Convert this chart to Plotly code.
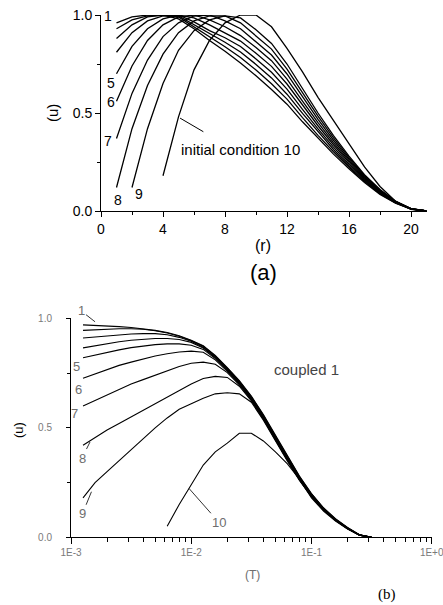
import plotly.graph_objects as go

# ---------------- panel (a) data ----------------
r_vals = list(range(1, 22))
a1 = [0.96, 0.99, 1.0, 1.0, 0.98, 0.93, 0.87, 0.815, 0.755, 0.69, 0.62, 0.545, 0.455, 0.37, 0.29, 0.215, 0.145, 0.085, 0.04, 0.01, 0.0]
a2 = [0.93, 0.975, 0.995, 1.0, 0.99, 0.94, 0.886, 0.838, 0.783, 0.719, 0.649, 0.571, 0.476, 0.386, 0.302, 0.223, 0.15, 0.088, 0.041, 0.01, 0.0]
a3 = [0.88, 0.95, 0.99, 1.0, 0.995, 0.95, 0.903, 0.861, 0.811, 0.748, 0.679, 0.596, 0.498, 0.403, 0.314, 0.231, 0.155, 0.091, 0.043, 0.011, 0.0]
a4 = [0.81, 0.91, 0.97, 0.995, 1.0, 0.965, 0.92, 0.884, 0.839, 0.776, 0.708, 0.622, 0.519, 0.419, 0.326, 0.239, 0.16, 0.094, 0.044, 0.011, 0.0]
a5 = [0.70, 0.84, 0.93, 0.98, 1.0, 0.985, 0.95, 0.91, 0.867, 0.805, 0.738, 0.648, 0.54, 0.435, 0.338, 0.248, 0.165, 0.098, 0.045, 0.011, 0.0]
a6 = [0.56, 0.74, 0.87, 0.95, 0.99, 1.0, 0.975, 0.94, 0.895, 0.834, 0.767, 0.673, 0.561, 0.451, 0.349, 0.256, 0.17, 0.101, 0.046, 0.011, 0.0]
a7 = [0.37, 0.60, 0.77, 0.89, 0.96, 0.995, 1.0, 0.97, 0.93, 0.863, 0.796, 0.699, 0.583, 0.468, 0.361, 0.264, 0.175, 0.104, 0.048, 0.012, 0.0]
a8 = [0.12, 0.42, 0.64, 0.80, 0.91, 0.97, 0.995, 0.995, 0.96, 0.895, 0.826, 0.724, 0.604, 0.484, 0.373, 0.272, 0.18, 0.107, 0.049, 0.012, 0.0]
a9 = [None, 0.12, 0.42, 0.65, 0.82, 0.92, 0.975, 0.995, 0.985, 0.925, 0.855, 0.75, 0.625, 0.50, 0.385, 0.28, 0.185, 0.11, 0.05, 0.012, 0.0]
a10 = [None, None, None, 0.18, 0.48, 0.72, 0.87, 0.96, 1.0, 1.0, 0.94, 0.83, 0.71, 0.58, 0.46, 0.34, 0.225, 0.125, 0.05, 0.008, 0.0]
curves_a = [a1, a2, a3, a4, a5, a6, a7, a8, a9, a10]

# ---------------- panel (b) data ----------------
logT = [-2.9, -2.8, -2.7, -2.6, -2.5, -2.4, -2.3, -2.2, -2.1, -2.0, -1.9, -1.8, -1.7,
        -1.6, -1.5, -1.4, -1.3, -1.2, -1.1, -1.0, -0.9, -0.8, -0.7, -0.6, -0.5]
T_vals = [10 ** e for e in logT]
b1 = [0.97, 0.968, 0.965, 0.962, 0.958, 0.952, 0.945, 0.935, 0.92, 0.90, 0.875, 0.83, 0.775, 0.715, 0.645, 0.56, 0.465, 0.37, 0.28, 0.20, 0.135, 0.085, 0.045, 0.012, 0.0]
b2 = [0.945, 0.948, 0.95, 0.952, 0.952, 0.95, 0.943, 0.933, 0.918, 0.898, 0.872, 0.827, 0.772, 0.712, 0.642, 0.557, 0.462, 0.367, 0.277, 0.198, 0.133, 0.083, 0.044, 0.011, 0.0]
b3 = [0.91, 0.915, 0.92, 0.925, 0.928, 0.93, 0.93, 0.925, 0.913, 0.895, 0.868, 0.824, 0.769, 0.709, 0.639, 0.554, 0.459, 0.364, 0.274, 0.196, 0.131, 0.082, 0.043, 0.011, 0.0]
b4 = [0.865, 0.875, 0.885, 0.893, 0.90, 0.905, 0.908, 0.908, 0.903, 0.89, 0.864, 0.82, 0.766, 0.706, 0.636, 0.551, 0.456, 0.361, 0.271, 0.194, 0.129, 0.081, 0.042, 0.01, 0.0]
b5 = [0.82, 0.833, 0.845, 0.856, 0.866, 0.874, 0.88, 0.883, 0.883, 0.877, 0.858, 0.816, 0.762, 0.703, 0.633, 0.548, 0.453, 0.358, 0.268, 0.192, 0.128, 0.08, 0.041, 0.01, 0.0]
b6 = [0.726, 0.745, 0.765, 0.785, 0.80, 0.815, 0.828, 0.838, 0.846, 0.85, 0.845, 0.81, 0.758, 0.70, 0.63, 0.545, 0.45, 0.355, 0.266, 0.19, 0.127, 0.079, 0.04, 0.01, 0.0]
b7 = [0.60, 0.625, 0.65, 0.675, 0.70, 0.72, 0.74, 0.76, 0.78, 0.795, 0.80, 0.79, 0.752, 0.696, 0.627, 0.542, 0.447, 0.352, 0.264, 0.188, 0.126, 0.078, 0.04, 0.01, 0.0]
b8 = [0.42, 0.455, 0.49, 0.52, 0.55, 0.58, 0.61, 0.64, 0.67, 0.70, 0.725, 0.735, 0.73, 0.69, 0.623, 0.539, 0.444, 0.35, 0.262, 0.186, 0.125, 0.077, 0.039, 0.01, 0.0]
b9 = [0.18, 0.25, 0.30, 0.35, 0.40, 0.45, 0.50, 0.545, 0.585, 0.61, 0.635, 0.655, 0.66, 0.655, 0.617, 0.535, 0.44, 0.347, 0.26, 0.185, 0.124, 0.076, 0.039, 0.01, 0.0]
b10 = [None, None, None, None, None, None, None, 0.05, 0.15, 0.24, 0.33, 0.39, 0.43, 0.475, 0.475, 0.44, 0.39, 0.335, 0.265, 0.18, 0.12, 0.074, 0.038, 0.01, 0.0]
curves_b = [b1, b2, b3, b4, b5, b6, b7, b8, b9, b10]

x_ticks_b = [0.001, 0.01, 0.1, 1]
x_ticktext_b = ["1E-3", "1E-2", "1E-1", "1E+0"]
x_minor_b = [k * 10 ** e for e in (-3, -2, -1) for k in range(2, 10)]

W, H = 443, 605
def px(x):
    return x / W
def py(y):
    return 1 - y / H

fig = go.Figure()
for c in curves_a:
    fig.add_trace(go.Scatter(x=r_vals, y=c, mode="lines", xaxis="x", yaxis="y",
                             line=dict(color="black", width=1.3), showlegend=False,
                             connectgaps=False, cliponaxis=False, hoverinfo="skip"))
for c in curves_b:
    fig.add_trace(go.Scatter(x=T_vals, y=c, mode="lines", xaxis="x2", yaxis="y2",
                             line=dict(color="black", width=1.1), showlegend=False,
                             connectgaps=False, cliponaxis=False, hoverinfo="skip"))

font_a = dict(family="Liberation Sans, Arial, sans-serif", size=14, color="black")
font_b = dict(family="Liberation Sans, Arial, sans-serif", size=10, color="#7a7a7a")

common = dict(showgrid=False, zeroline=False, showline=True, linecolor="black",
              linewidth=1, mirror=False, ticks="outside", tickcolor="black",
              automargin=False, ticklabeloverflow="allow")

fig.update_layout(
    width=W, height=H, margin=dict(l=0, r=0, t=0, b=0, pad=0),
    paper_bgcolor="white", plot_bgcolor="white",
    xaxis=dict(domain=[px(101), px(426.5)], range=[0, 21], anchor="y", ticklen=5,
               tickvals=[0, 4, 8, 12, 16, 20], tickfont=font_a,
               minor=dict(ticks="outside", ticklen=3, tickvals=[2, 6, 10, 14, 18], tickcolor="black"),
               **common),
    yaxis=dict(domain=[py(211), py(15)], range=[0, 1.0], anchor="x", ticklen=5,
               tickvals=[0, 0.5, 1.0], tickformat=".1f", tickfont=font_a,
               minor=dict(ticks="outside", ticklen=3, tickvals=[0.25, 0.75], tickcolor="black"),
               **common),
    xaxis2=dict(domain=[px(71), px(431.7)], type="log", range=[-3, 0], anchor="y2", ticklen=6,
                tickvals=x_ticks_b, ticktext=x_ticktext_b, tickfont=font_b,
                minor=dict(ticks="outside", ticklen=4, tickvals=x_minor_b, tickcolor="black"),
                **common),
    yaxis2=dict(domain=[py(537.3), py(318.3)], range=[0, 1.0], anchor="x2", ticklen=4,
                tickvals=[0, 0.5, 1.0], tickformat=".1f", tickfont=font_b,
                ticklabelstandoff=12,
                minor=dict(ticks="outside", ticklen=3, tickvals=[0.25, 0.75], tickcolor="black"),
                **common),
)

ann = []
def txt(text, x, y, xref="paper", yref="paper", size=14, color="black", family="Liberation Sans, Arial, sans-serif", angle=0):
    ann.append(dict(text=text, x=x, y=y, xref=xref, yref=yref, showarrow=False,
                    font=dict(family=family, size=size, color=color), textangle=angle,
                    xanchor="center", yanchor="middle"))

# panel (a) texts
txt("(r)", px(263), py(246), size=16)
txt("(a)", px(263), py(272), size=22)
txt("(u)", px(52), py(113), size=15, angle=-90)
for lab, rx, uy in [("1", 0.45, 0.995), ("5", 0.65, 0.653), ("6", 0.65, 0.556),
                    ("7", 0.45, 0.357), ("8", 1.1, 0.056), ("9", 2.45, 0.087)]:
    txt(lab, rx, uy, xref="x", yref="y", size=14)
txt("initial condition 10", 8.97, 0.316, xref="x", yref="y", size=15)
ann.append(dict(text="", x=5.1, y=0.474, xref="x", yref="y", ax=6.7, ay=0.40,
                axref="x", ayref="y", showarrow=True, arrowhead=0, arrowwidth=1,
                arrowcolor="black", standoff=0, startstandoff=0))

# panel (b) texts
gray = "#6e6e6e"
txt("(T)", px(252), py(575), size=12, color=gray)
txt("(u)", px(18), py(430), size=13, angle=-90)
txt("(b)", px(387), py(594), size=15, family="Liberation Serif, Times New Roman, serif")
txt("coupled 1", -1.04, 0.764, xref="x2", yref="y2", size=15, color="#444444")
for lab, lx, uy in [("5", -2.953, 0.779), ("6", -2.94, 0.676), ("7", -2.975, 0.566)]:
    txt(lab, lx, uy, xref="x2", yref="y2", size=13, color=gray)
for lab, tx, tu, axp, ayp in [("1", -2.8, 0.984, -14, -11), ("8", -2.842, 0.435, -8, 16),
                              ("9", -2.83, 0.208, -9, 22), ("10", -2.02, 0.224, 30, 34)]:
    ann.append(dict(text=lab, x=tx, y=tu, xref="x2", yref="y2", ax=axp, ay=ayp,
                    showarrow=True, arrowhead=0, arrowwidth=1, arrowcolor="#333333",
                    standoff=0, font=dict(family="Liberation Sans, Arial, sans-serif",
                                          size=13, color=gray)))

fig.update_layout(annotations=ann)
fig.write_html("out.html", config={"displayModeBar": False},
               post_script="document.body.style.margin='0px';document.body.style.overflow='hidden';")
